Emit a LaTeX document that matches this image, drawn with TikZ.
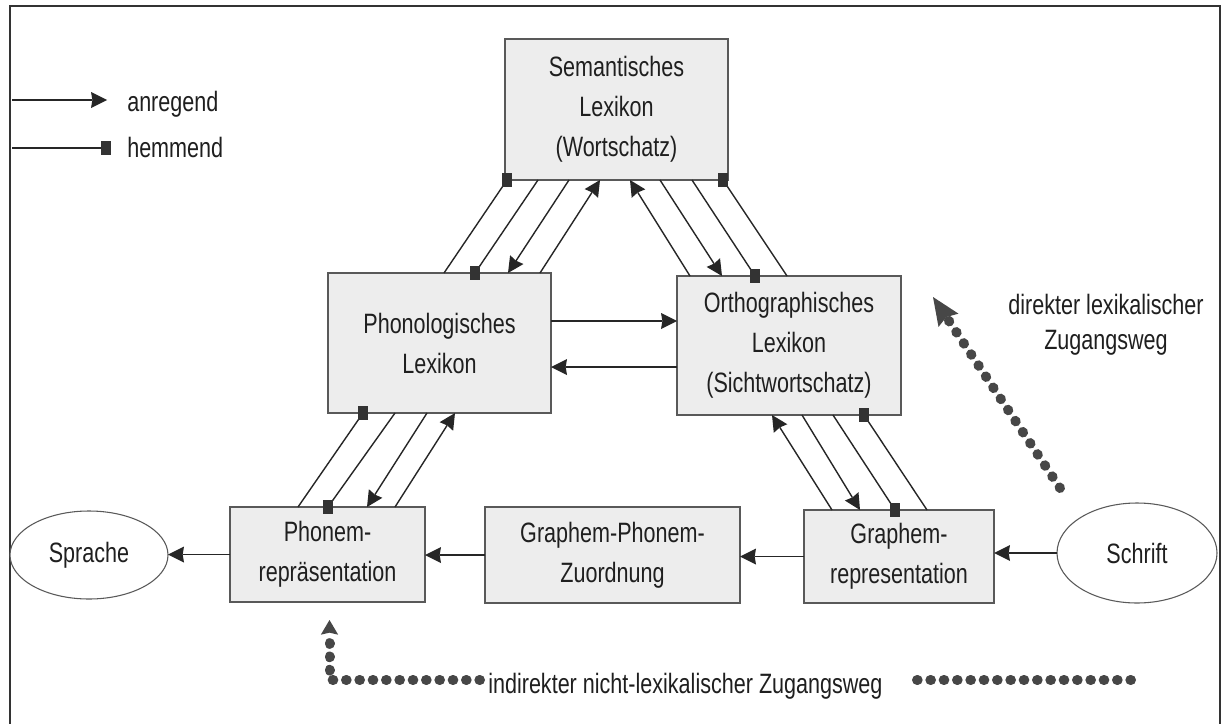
\documentclass[tikz,border=0pt]{standalone}
\usepackage{fontspec}
\setmainfont{Liberation Sans}[FakeStretch=0.77]
\usetikzlibrary{arrows.meta,calc,shapes.geometric}
% one unit of the coordinate system is 0.75pt (one screen pixel)
\begin{document}
\begin{tikzpicture}[x=0.75pt,y=-0.75pt,
  box/.style={draw=black!65, line width=0.8pt, fill=black!7, align=center,
    inner sep=0pt, outer sep=0pt, text=black!88,
    font=\fontsize{21}{30}\selectfont},
  oval/.style={ellipse, draw=black!65, line width=0.8pt, fill=white,
    inner sep=0pt, outer sep=0pt, text=black!88,
    font=\fontsize{21}{30}\selectfont},
  lbl/.style={inner sep=0pt, text=black!88, font=\fontsize{21}{26.25}\selectfont},
  link/.style={draw=black!85, line width=1.05pt},
  exc/.style={link, -{Stealth[length=12pt, width=12pt, inset=1pt, line width=0pt]}},
  stopper/.style={fill=black!80, draw=none, minimum width=7.5pt,
    minimum height=10.5pt, inner sep=0pt, outer sep=0pt},
  dots/.style={draw=black!72, line width=7.5pt, line cap=round,
    dash pattern=on 0.5pt off 9.5pt}
]
\useasboundingbox (0,0) rectangle (1227,724);
\fill[white] (0,0) rectangle (1227,724);

% outer frame (open at the bottom)
\draw[black!80, line width=1.5pt] (10,724) -- (10,6) -- (1220,6) -- (1220,724);

% lexicon and representation boxes
\node[box, minimum width=167.25pt, minimum height=105.75pt] (sem) at (616.5,109.5)
  {Semantisches\\Lexikon\\(Wortschatz)};
\node[box, minimum width=167.25pt, minimum height=105pt] (phon) at (439.5,343)
  {Phonologisches\\Lexikon};
\node[box, minimum width=168pt, minimum height=104.25pt] (orth) at (789,345.5)
  {Orthographisches\\Lexikon\\(Sichtwortschatz)};
\node[box, minimum width=146.25pt, minimum height=71.25pt] (phonem) at (327.5,554.5)
  {Phonem-\\repräsentation};
\node[box, minimum width=191.25pt, minimum height=72pt] (gpz) at (612.5,555)
  {Graphem-Phonem-\\Zuordnung};
\node[box, minimum width=142.5pt, minimum height=69.75pt] (graph) at (899,556.5)
  {Graphem-\\representation};
\node[oval, minimum width=118.5pt, minimum height=66pt] (sprache) at (89,555) {Sprache};
\node[oval, minimum width=120pt, minimum height=75pt] (schrift) at (1137,553) {Schrift};

% semantic <-> phonological lexicon
\draw[link] ($(phon.north west)+(116,0)$) -- ($(sem.south west)+(2,0)$) node[stopper,pos=1]{};
\draw[link] ($(sem.south west)+(33,0)$) -- ($(phon.north west)+(147,0)$) node[stopper,pos=1]{};
\draw[exc] ($(sem.south west)+(64,0)$) -- ($(phon.north west)+(180,0)$);
\draw[exc] ($(phon.north west)+(212,0)$) -- ($(sem.south west)+(95,0)$);

% semantic <-> orthographic lexicon
\draw[exc] ($(orth.north west)+(13,0)$) -- ($(sem.south west)+(125,0)$);
\draw[exc] ($(sem.south west)+(155,0)$) -- ($(orth.north west)+(45,0)$);
\draw[link] ($(sem.south west)+(187,0)$) -- ($(orth.north west)+(78,0)$) node[stopper,pos=1]{};
\draw[link] ($(orth.north west)+(110,0)$) -- ($(sem.south west)+(218,0)$) node[stopper,pos=1]{};

% phonological lexicon <-> phoneme representation
\draw[link] ($(phonem.north west)+(68,0)$) -- ($(phon.south west)+(35,0)$) node[stopper,pos=1]{};
\draw[link] ($(phon.south west)+(67,0)$) -- ($(phonem.north west)+(98,0)$) node[stopper,pos=1]{};
\draw[exc] ($(phon.south west)+(99,0)$) -- ($(phonem.north west)+(137,0)$);
\draw[exc] ($(phonem.north west)+(165,0)$) -- ($(phon.south west)+(127,0)$);

% orthographic lexicon <-> grapheme representation
\draw[exc] ($(graph.north west)+(28,0)$) -- ($(orth.south west)+(95,0)$);
\draw[exc] ($(orth.south west)+(125,0)$) -- ($(graph.north west)+(56,0)$);
\draw[link] ($(orth.south west)+(156,0)$) -- ($(graph.north west)+(91,0)$) node[stopper,pos=1]{};
\draw[link] ($(graph.north west)+(123,0)$) -- ($(orth.south west)+(187,0)$) node[stopper,pos=1]{};

% phonological <-> orthographic lexicon
\coordinate (pu) at ($(phon.east)+(0,-22)$);
\coordinate (pl) at ($(phon.east)+(0,24)$);
\draw[exc] (pu) -- (pu -| orth.west);
\draw[exc] (pl -| orth.west) -- (pl);

% bottom row, right to left
\draw[exc] (schrift.west) -- (schrift.west -| graph.east);
\draw[exc] (graph.west) -- (graph.west -| gpz.east);
\draw[exc] (gpz.west) -- (gpz.west -| phonem.east);
\draw[exc] (phonem.west) -- (phonem.west -| sprache.east);

% legend
\node[lbl, anchor=base west] (lexc) at (127,111) {anregend};
\node[lbl, anchor=base west] (linh) at (127,157) {hemmend};
\coordinate (la) at (12,100);
\coordinate (lb) at (107,100);
\coordinate (lc) at (12,148);
\coordinate (ld) at (106,148);
\draw[exc] (la) -- (lb);
\draw[link] (lc) -- (ld) node[stopper,pos=1]{};

% direct lexical route
\node[lbl, align=center] (direct) at (1106,325) {direkter lexikalischer\\Zugangsweg};
\coordinate (d0) at (1060,488);
\coordinate (d1) at (933,297);
\draw[dots, -{Stealth[length=21pt, width=18pt, inset=3pt, line width=0pt]}] (d0) -- (d1);

% indirect non-lexical route
\node[lbl, anchor=base west] (indirect) at (488,693) {indirekter nicht-lexikalischer Zugangsweg};
\coordinate (i0) at (480,680);
\coordinate (itip) at ($(phonem.south)+(2,18)$);
\draw[dots, -{Stealth[length=11pt, width=13pt, inset=1.5pt, line width=0pt]}] (i0) -| (itip);
\coordinate (j0) at (917,680);
\coordinate (j1) at (1133,680);
\draw[dots] (j0) -- (j1);
\end{tikzpicture}
\end{document}
